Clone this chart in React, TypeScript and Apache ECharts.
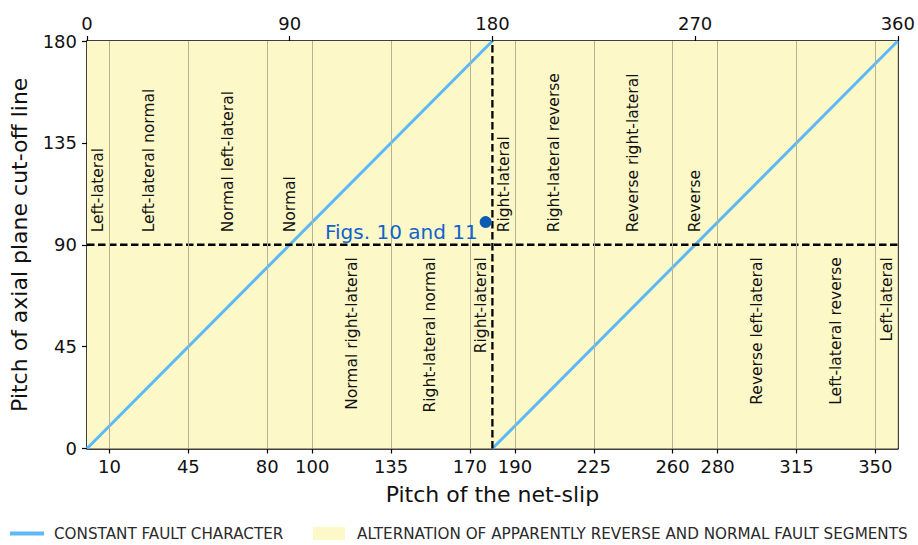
import React, { useEffect, useRef } from "react";
import * as echarts from "echarts";

const FONT = "DejaVu Sans";

const topTicks = [0, 90, 180, 270, 360];
const bottomTicks = [10, 45, 80, 100, 135, 170, 190, 225, 260, 280, 315, 350];
const yTicks = [0, 45, 90, 135, 180];
const gridLinesX = [10, 45, 80, 100, 135, 170, 190, 225, 260, 280, 315, 350];

const constantLine1 = [[0, 0], [180, 180]];
const constantLine2 = [[180, 0], [360, 180]];
const refHorizontal = [[0, 90], [360, 90]];
const refVertical = [[180, 0], [180, 180]];

const sectorLabels = [
  "Left-lateral",
  "Left-lateral normal",
  "Normal left-lateral",
  "Normal",
  "Normal right-lateral",
  "Right-lateral normal",
  "Right-lateral",
  "Right-lateral",
  "Right-lateral reverse",
  "Reverse right-lateral",
  "Reverse",
  "Reverse left-lateral",
  "Left-lateral reverse",
  "Left-lateral",
];
const sectorX = [5, 27.5, 62.5, 90, 117.5, 152.5, 175, 185, 207.5, 242.5, 270, 297.5, 332.5, 355];
const sectorY = [95.5, 95.5, 95.5, 95.5, 84.5, 84.5, 84.5, 95.5, 95.5, 95.5, 95.5, 84.5, 84.5, 84.5];
const sectorSide = ["up", "up", "up", "up", "down", "down", "down", "up", "up", "up", "up", "down", "down", "down"];

const figPoint = [[177, 100]];
const figLabel = "Figs. 10 and 11";

const LEGEND_CONST = "CONSTANT FAULT CHARACTER";
const LEGEND_ALT = "ALTERNATION OF APPARENTLY REVERSE AND NORMAL FAULT SEGMENTS";

const BLUE = "#5cb9f6";
const YELLOW = "#fdf8c8";
const GREY = "#b8b197";

export default function App() {
  const ref = useRef<HTMLDivElement>(null);
  useEffect(() => {
    document.body.style.margin = "0";
    if (!ref.current) return;
    const chart = echarts.init(ref.current, null, { renderer: "svg" });
    const option: any = {
      animation: false,
      textStyle: { fontFamily: FONT },
      grid: { left: 86, right: 17, top: 41, bottom: 96.5, show: false },
      legend: [
        {
          data: [{ name: LEGEND_CONST, icon: "rect", itemStyle: { color: BLUE } }],
          left: 10,
          top: 526,
          padding: 0,
          itemWidth: 34,
          itemHeight: 4,
          selectedMode: false,
          textStyle: { fontFamily: FONT, fontSize: 15.2, color: "#2a2a2a", padding: [0, 0, 0, 5] },
        },
        {
          data: [{ name: LEGEND_ALT, icon: "rect", itemStyle: { color: YELLOW } }],
          left: 313,
          top: 526,
          padding: 0,
          itemWidth: 32,
          itemHeight: 13,
          selectedMode: false,
          textStyle: { fontFamily: FONT, fontSize: 15.2, color: "#2a2a2a", padding: [0, 0, 0, 7] },
        },
      ],
      xAxis: [
        {
          type: "value",
          position: "bottom",
          min: 0,
          max: 360,
          name: "Pitch of the net-slip",
          nameLocation: "middle",
          nameGap: 35,
          nameTextStyle: { fontFamily: FONT, fontSize: 22, color: "#111" },
          axisLine: { show: true, onZero: false, lineStyle: { color: "#000", width: 1.5 } },
          axisTick: { show: true, inside: false, length: 5, customValues: bottomTicks, lineStyle: { color: "#000", width: 1.2 } },
          axisLabel: { customValues: bottomTicks, fontFamily: FONT, fontSize: 18, color: "#111", margin: 9 },
          splitLine: { show: false },
        },
        {
          type: "value",
          position: "top",
          min: 0,
          max: 360,
          interval: 90,
          axisLine: { show: true, onZero: false, lineStyle: { color: "#000", width: 1.5 } },
          axisTick: { show: true, inside: false, length: 5, lineStyle: { color: "#000", width: 1.2 } },
          axisLabel: { fontFamily: FONT, fontSize: 18, color: "#111", margin: 9, customValues: topTicks },
          splitLine: { show: false },
        },
      ],
      yAxis: [
        {
          type: "value",
          position: "left",
          min: 0,
          max: 180,
          interval: 45,
          name: "Pitch of axial plane cut-off line",
          nameLocation: "middle",
          nameGap: 57,
          nameTextStyle: { fontFamily: FONT, fontSize: 22, color: "#111" },
          axisLine: { show: true, onZero: false, lineStyle: { color: "#000", width: 1.5 } },
          axisTick: { show: true, inside: false, length: 5, lineStyle: { color: "#000", width: 1.2 } },
          axisLabel: { fontFamily: FONT, fontSize: 18, color: "#111", margin: 10, customValues: yTicks },
          splitLine: { show: false },
        },
        {
          type: "value",
          position: "right",
          min: 0,
          max: 180,
          interval: 45,
          axisLine: { show: true, onZero: false, lineStyle: { color: "#000", width: 1.5 } },
          axisTick: { show: false },
          axisLabel: { show: false },
          splitLine: { show: false },
        },
      ],
      series: [
        {
          name: LEGEND_ALT,
          type: "line",
          data: [],
          itemStyle: { color: YELLOW },
          silent: true,
          z: 0,
          markArea: {
            silent: true,
            itemStyle: { color: YELLOW },
            data: [[{ coord: [0, 0] }, { coord: [360, 180] }]],
          },
        },
        {
          name: "grid-lines",
          type: "line",
          data: [],
          silent: true,
          z: 1,
          markLine: {
            silent: true,
            symbol: "none",
            label: { show: false },
            lineStyle: { color: GREY, width: 1, type: "solid" },
            data: gridLinesX.map((v) => ({ xAxis: v })),
          },
        },
        {
          name: LEGEND_CONST,
          type: "line",
          data: constantLine1,
          showSymbol: false,
          lineStyle: { color: BLUE, width: 3 },
          itemStyle: { color: BLUE },
          z: 3,
        },
        {
          name: LEGEND_CONST,
          type: "line",
          data: constantLine2,
          showSymbol: false,
          lineStyle: { color: BLUE, width: 3 },
          itemStyle: { color: BLUE },
          z: 3,
        },
        {
          name: "ref-h",
          type: "line",
          data: refHorizontal,
          showSymbol: false,
          lineStyle: { color: "#000", width: 2.3, type: [7.5, 3.5] },
          z: 4,
        },
        {
          name: "ref-v",
          type: "line",
          data: refVertical,
          showSymbol: false,
          lineStyle: { color: "#000", width: 2.3, type: [7.5, 3.5] },
          z: 4,
        },
        {
          name: "sectors",
          type: "custom",
          data: sectorX.map((x, i) => [x, sectorY[i], i]),
          z: 5,
          silent: true,
          renderItem: (params: any, api: any) => {
            const i = params.dataIndex;
            const p = api.coord([api.value(0), api.value(1)]);
            const up = sectorSide[i] === "up";
            return {
              type: "text",
              x: p[0],
              y: p[1],
              rotation: Math.PI / 2,
              style: {
                text: sectorLabels[i],
                align: up ? "left" : "right",
                verticalAlign: "middle",
                fontFamily: FONT,
                fontSize: 15.5,
                fill: "#111",
              },
            };
          },
        },
        {
          name: "figs",
          type: "scatter",
          data: figPoint,
          symbolSize: 12,
          itemStyle: { color: "#0a5cb3", opacity: 1 },
          z: 6,
          label: {
            show: true,
            formatter: figLabel,
            position: "left",
            distance: 2,
            offset: [0, 10],
            fontFamily: FONT,
            fontSize: 20,
            color: "#0f63cc",
          },
        },
      ],
    };
    chart.setOption(option);
    return () => chart.dispose();
  }, []);
  return <div ref={ref} style={{ width: 918, height: 545 }} />;
}
